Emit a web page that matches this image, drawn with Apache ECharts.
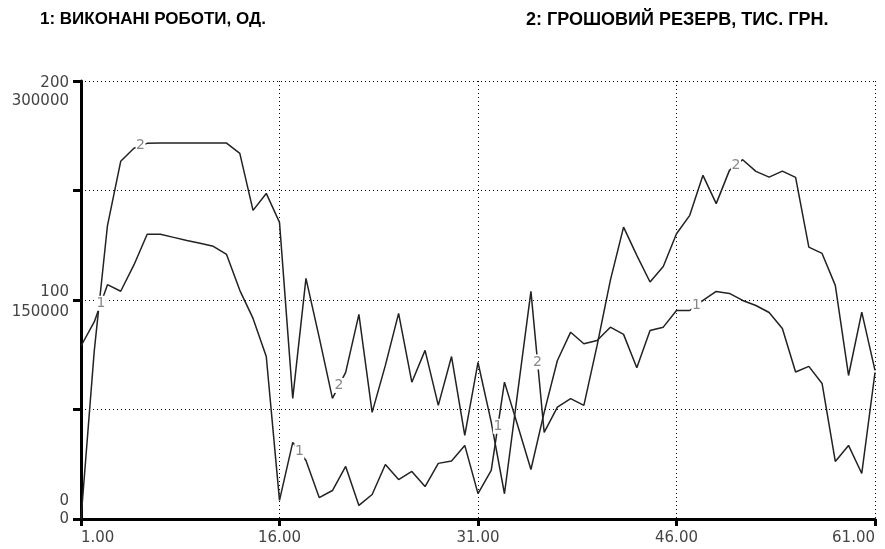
<!DOCTYPE html>
<html>
<head>
<meta charset="utf-8">
<title>Виконані роботи та грошовий резерв</title>
<script src="https://cdn.jsdelivr.net/npm/echarts@6/dist/echarts.min.js"></script>
<style>
  html, body { margin: 0; padding: 0; background: #fff; }
  #chart { width: 885px; height: 549px; }
</style>
</head>
<body>
<div id="chart"></div>
<script>
// simulation time, 1..61
const times = [
  1, 2, 3, 4, 5, 6, 7, 8, 9, 10, 11, 12, 13, 14, 15, 16, 17, 18, 19, 20,
  21, 22, 23, 24, 25, 26, 27, 28, 29, 30, 31, 32, 33, 34, 35, 36, 37, 38, 39, 40,
  41, 42, 43, 44, 45, 46, 47, 48, 49, 50, 51, 52, 53, 54, 55, 56, 57, 58, 59, 60, 61
];
const tickLabels = times.map((t) => t.toFixed(2));

// 1: виконані роботи, од.
const workDone = [
  79, 90, 107, 104, 116, 130, 130, 128.6, 127.2, 125.9,
  124.5, 120.8, 104.4, 91.6, 74.2, 8.5, 35, 26.7, 9.8, 13,
  24, 6.2, 11.2, 24.9, 18, 21.7, 14.8, 25.4, 26.5, 33.6,
  11.6, 22.2, 62.5, 42.7, 22.6, 48.7, 72.4, 85.3, 80, 81.5,
  87.6, 84.3, 69.1, 86.1, 87.6, 95.2, 95.2, 99.8, 103.9, 103,
  99.8, 97.5, 94.3, 87, 67.1, 69.7, 61.9, 26.3, 33.6, 20.8, 66.9
];

// 2: грошовий резерв, тис. грн.
const cashReserve = [
  0, 115000, 201000, 245000, 253900, 257300, 257500, 257500, 257500, 257500,
  257500, 257500, 250400, 211400, 223000, 203200, 82600, 164800, 124400, 82600,
  100400, 140100, 73000, 105200, 140800, 93700, 115500, 77800, 111300, 57200,
  107200, 66300, 17300, 86900, 155900, 59300, 76600, 82400, 77800, 118900,
  163400, 199900, 180600, 162300, 173000, 195400, 208000, 235400, 216000, 238800,
  246100, 238100, 234200, 238300, 234000, 186200, 181900, 160000, 98300, 141700, 101800
];

const titles = ["1: ВИКОНАНІ РОБОТИ, ОД.", "2: ГРОШОВИЙ РЕЗЕРВ, ТИС. ГРН."];

// where the "1" / "2" markers sit on the lines
const workLabelAt = [2.5, 17.5, 32.5, 47.5];
const cashLabelAt = [5.5, 20.5, 35.5, 50.5];

const ink = "#222";
const dotted = { color: "#000", width: 1, type: [1, 3] };
const axisFont = { fontFamily: "DejaVu Sans", fontSize: 15, color: "#444" };
const titleFont = { fontFamily: "Liberation Sans", fontWeight: "bold", color: "#000" };

function midValue(values, t) {
  const i = Math.floor(t) - 1;
  return (values[i] + values[i + 1]) / 2;
}

function lineMarkers(text, values, positions) {
  return {
    silent: true,
    symbol: "rect",
    symbolSize: [10, 15],
    itemStyle: { color: "#fff" },
    label: {
      show: true,
      position: "inside",
      formatter: text,
      color: "#888",
      fontFamily: "DejaVu Sans",
      fontSize: 14
    },
    data: positions.map((t) => ({ coord: [t, midValue(values, t)] }))
  };
}

const chart = echarts.init(document.getElementById("chart"));

chart.setOption({
  animation: false,
  backgroundColor: "#fff",
  title: [
    { text: titles[0], left: 35, top: 6, textStyle: { ...titleFont, fontSize: 17 } },
    { text: titles[1], left: 521, top: 6, textStyle: { ...titleFont, fontSize: 18 } }
  ],
  grid: { left: 81, right: 10, top: 81, bottom: 30, containLabel: false },
  xAxis: [
    {
      type: "category",
      data: tickLabels,
      boundaryGap: false,
      axisLine: { lineStyle: { color: "#000", width: 3 } },
      axisTick: { interval: 14, length: 7, lineStyle: { color: "#000", width: 3 } },
      axisLabel: {
        ...axisFont,
        interval: 14,
        margin: 12,
        showMaxLabel: true,
        alignMinLabel: "left",
        alignMaxLabel: "right"
      },
      splitLine: { show: true, interval: 14, lineStyle: dotted }
    },
    { type: "value", min: 1, max: 61, show: false }
  ],
  yAxis: [
    {
      type: "value",
      min: 0,
      max: 200,
      interval: 50,
      axisLine: { show: true, lineStyle: { color: "#000", width: 3 } },
      axisTick: { show: true, length: 8, lineStyle: { color: "#000", width: 3 } },
      splitLine: { show: true, lineStyle: dotted },
      axisLabel: {
        ...axisFont,
        margin: 12,
        formatter: (v) => (v % 100 === 0 ? `{y${v}|${v}}` : ""),
        rich: {
          y200: { ...axisFont, padding: [5, 0, 0, 0] },
          y100: { ...axisFont, padding: [0, 0, 15, 0] },
          y0: { ...axisFont, padding: [0, 0, 36, 0] }
        }
      }
    },
    {
      type: "value",
      min: 0,
      max: 300000,
      interval: 75000,
      position: "left",
      axisLine: { show: false },
      axisTick: { show: false },
      splitLine: { show: false },
      axisLabel: {
        ...axisFont,
        margin: 12,
        formatter: (v) => (v % 150000 === 0 ? `{c${v}|${v}}` : ""),
        rich: {
          c300000: { ...axisFont, padding: [41, 0, 0, 0] },
          c150000: { ...axisFont, padding: [24, 0, 0, 0] },
          c0: { ...axisFont, padding: [1, 0, 0, 0] }
        }
      }
    }
  ],
  series: [
    {
      name: titles[0],
      type: "line",
      xAxisIndex: 1,
      yAxisIndex: 0,
      showSymbol: false,
      lineStyle: { color: ink, width: 1.5 },
      data: times.map((t, i) => [t, workDone[i]]),
      markPoint: lineMarkers("1", workDone, workLabelAt)
    },
    {
      name: titles[1],
      type: "line",
      xAxisIndex: 1,
      yAxisIndex: 1,
      showSymbol: false,
      lineStyle: { color: ink, width: 1.5 },
      data: times.map((t, i) => [t, cashReserve[i]]),
      markPoint: lineMarkers("2", cashReserve, cashLabelAt)
    }
  ]
});
</script>
</body>
</html>
